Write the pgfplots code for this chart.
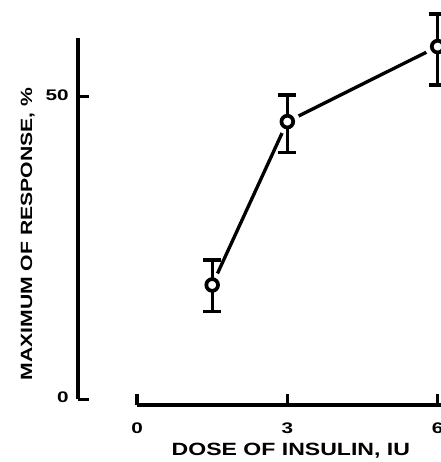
\documentclass[border=0pt]{standalone}
\usepackage{fontspec}
\setmainfont{Liberation Sans}
\newfontfamily\labfont[FakeStretch=1.3]{Liberation Sans}
\newfontfamily\tickfont[FakeStretch=1.35]{Liberation Sans}
\usepackage{pgfplots}
\pgfplotsset{compat=1.18}
% open circle with a white gap round it, which keeps the error-bar stem
\pgfdeclareplotmark{haloring}{%
  \pgfsetfillcolor{white}%
  \pgfpathcircle{\pgfpointorigin}{9.5pt}\pgfusepathqfill
  \pgfsetlinewidth{2.5pt}%
  \pgfpathmoveto{\pgfqpoint{0pt}{-10pt}}\pgfpathlineto{\pgfqpoint{0pt}{10pt}}\pgfusepathqstroke
  \pgfsetlinewidth{2.8pt}%
  \pgfsetfillcolor{white}%
  \pgfpathcircle{\pgfpointorigin}{4.4pt}\pgfusepathqfillstroke
}
\begin{document}
\begin{tikzpicture}
\begin{axis}[
  x=37.575pt, y=4.5375pt,
  xmin=-1.18, xmax=6.2, ymin=-0.94, ymax=59.7,
  clip=false,
  separate axis lines,
  axis x line*=bottom, axis y line*=left,
  x axis line style={-, line width=2.5pt, shorten <=44.34pt},
  y axis line style={-, line width=2.5pt, shorten <=4.27pt},
  tick align=inside,
  major tick length=8.5pt,
  tick style={line width=2.5pt, black},
  xtick={0,3,6}, ytick={0,50},
  /pgf/number format/assume math mode=true,
  tick label style={font=\fontsize{11.5}{13}\tickfont\bfseries},
  xticklabel style={yshift=-9.5pt},
  yticklabel style={xshift=-3.5pt, yshift=1.5pt},
  xlabel={DOSE OF INSULIN, IU},
  ylabel={MAXIMUM OF RESPONSE, \%},
  xlabel style={font=\fontsize{13.3}{15}\labfont\bfseries, at={(axis cs:3.07,-9.26)}, anchor=base},
  ylabel style={font=\fontsize{12.2}{14}\labfont\bfseries, at={(axis cs:-2.096,27.3)}, anchor=base, rotate=0},
]
% connecting line
\addplot[black, line width=2.5pt, mark=none] coordinates {(1.5,18.9) (3,45.9) (6,58.3)};
% error bars
\addplot[draw=none, mark=none,
  error bars/.cd, y dir=both, y explicit,
  error bar style={draw=black, line width=2.5pt},
  error mark options={draw=black, line width=2.5pt, mark size=6.75pt, rotate=90}]
  coordinates {
  (1.5,18.9) += (0,4.1) -= (0,4.4)
  (3,45.9) += (0,4.4) -= (0,5.1)
  (6,58.3) += (0,5.4) -= (0,6.35)
};
% open circle markers
\addplot[only marks, mark=haloring, mark options={draw=black}] coordinates {(1.5,18.9) (3,45.9) (6,58.3)};
\coordinate (bbl) at (axis cs:-2.735,-10.36);
\coordinate (btr) at (axis cs:6.048,66.0);
\end{axis}
\pgfresetboundingbox
\useasboundingbox (bbl) rectangle (btr);
\end{tikzpicture}
\end{document}
